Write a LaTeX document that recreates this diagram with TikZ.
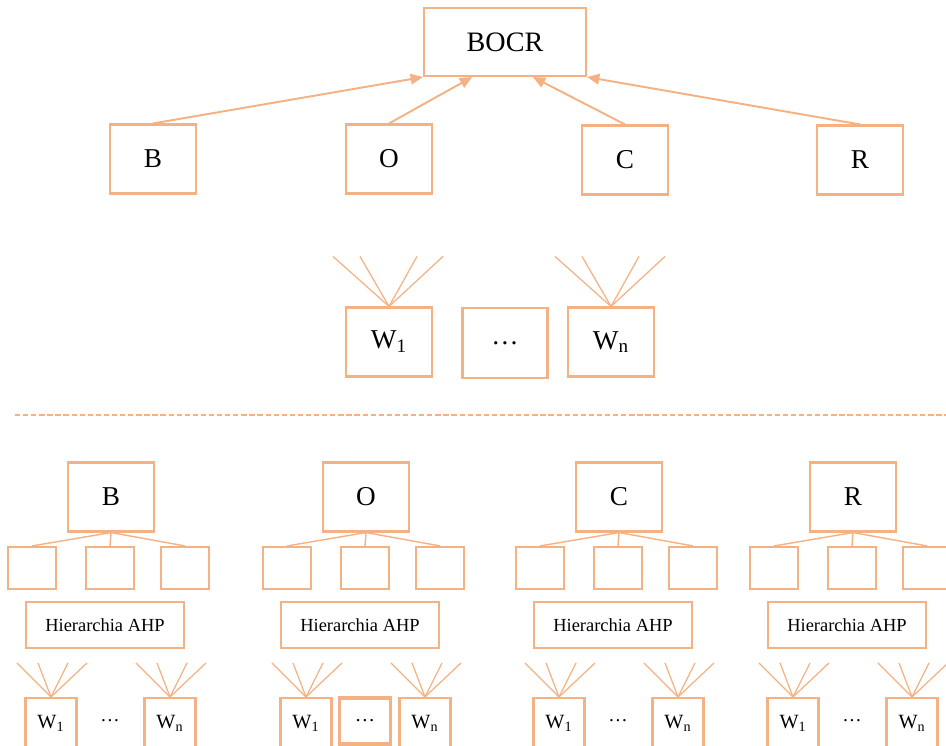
\documentclass[tikz,border=0pt]{standalone}
\usepackage{fontspec}
\setmainfont{Liberation Serif}
\usepackage{tikz}
\usetikzlibrary{arrows.meta,positioning,calc}
\definecolor{peach}{RGB}{244,177,131}

\begin{document}
\begin{tikzpicture}[x=0.02cm,y=-0.02cm,
    box/.style={draw=peach,line width=1.2pt,inner sep=0pt,minimum width=1.72cm,minimum height=1.38cm,font=\fontsize{15.5}{18}\selectfont},
    leaf/.style={draw=peach,line width=1.2pt,inner sep=0pt,minimum width=0.96cm,minimum height=0.84cm},
    ahp/.style={draw=peach,line width=1.2pt,inner sep=0pt,minimum width=3.16cm,minimum height=0.92cm,font=\fontsize{10.5}{12}\selectfont},
    wbox/.style={draw=peach,line width=1.2pt,inner sep=0pt,minimum width=1.02cm,minimum height=1cm,font=\fontsize{11.5}{13}\selectfont},
    dotsplain/.style={inner sep=0pt,font=\fontsize{11}{13}\selectfont},
    dotsframed/.style={wbox,line width=1.8pt,minimum height=0.92cm},
    link/.style={draw=peach,line width=1.1pt,-{Triangle[length=7pt,width=6pt]}},
    fan/.style={draw=peach,line width=0.7pt},
    tie/.style={draw=peach,line width=0.8pt}]
\useasboundingbox (0,0) rectangle (946,746);

\node[box,minimum width=3.24cm,minimum height=1.36cm,font=\fontsize{16}{19}\selectfont] (bocr) at (505,42) {BOCR};
\node[box] (b) at (153,159) {B};
\node[box] (o) at (389,159) {O};
\node[box] (c) at (625,160) {C};
\node[box] (r) at (860,160) {R};
\draw[link] (b.north) -- (bocr.south west);
\draw[link] (o.north) -- ($(bocr.south west)!0.3!(bocr.south east)$);
\draw[link] (c.north) -- ($(bocr.south west)!0.67!(bocr.south east)$);
\draw[link] (r.north) -- (bocr.south east);

\node[box] (w1) at (389,342) {W\textsubscript{1}};
\node[box,minimum width=1.70cm,minimum height=1.40cm] (wdots) at (505,343) {\dots};
\node[box] (wn) at (611,342) {W\textsubscript{n}};
\foreach \d [count=\i] in {-56,-29,28,54} {
  \draw[fan] (w1.north) -- ++(\d,-50) coordinate (w1t\i);
  \draw[fan] (wn.north) -- ++(\d,-50) coordinate (wnt\i);
}

\draw[peach,line width=0.8pt,dash pattern=on 3pt off 1.6pt] (15,415) -- (946,415);

\foreach \g/\L/\x/\dstyle in {bb/B/111/plain, ob/O/366/framed, cb/C/619/plain, rb/R/853/plain} {
  \node[box] (\g) at (\x,497) {\L};
  \node[leaf] (\g l1) at (\x-79,568) {};
  \node[leaf] (\g l2) at (\x-1,568) {};
  \node[leaf] (\g l3) at (\x+74,568) {};
  \draw[tie] (\g.south) -- (\g l1.north);
  \draw[tie] (\g.south) -- (\g l2.north);
  \draw[tie] (\g.south) -- (\g l3.north);
  \node[ahp] (\g h) at (\x-6,625) {Hierarchia AHP};
  \node[wbox] (\g w1) at (\x-60,723) {W\textsubscript{1}};
  \node[wbox] (\g wn) at (\x+59,723) {W\textsubscript{n}};
  \node[dots\dstyle] (\g d) at (\x-1,721) {\dots};
  \foreach \d [count=\i] in {-34,-13,17,36} {
    \draw[fan] (\g w1.north) -- ++(\d,-34) coordinate (\g w1t\i);
    \draw[fan] (\g wn.north) -- ++(\d,-34) coordinate (\g wnt\i);
  }
}
\end{tikzpicture}
\end{document}
